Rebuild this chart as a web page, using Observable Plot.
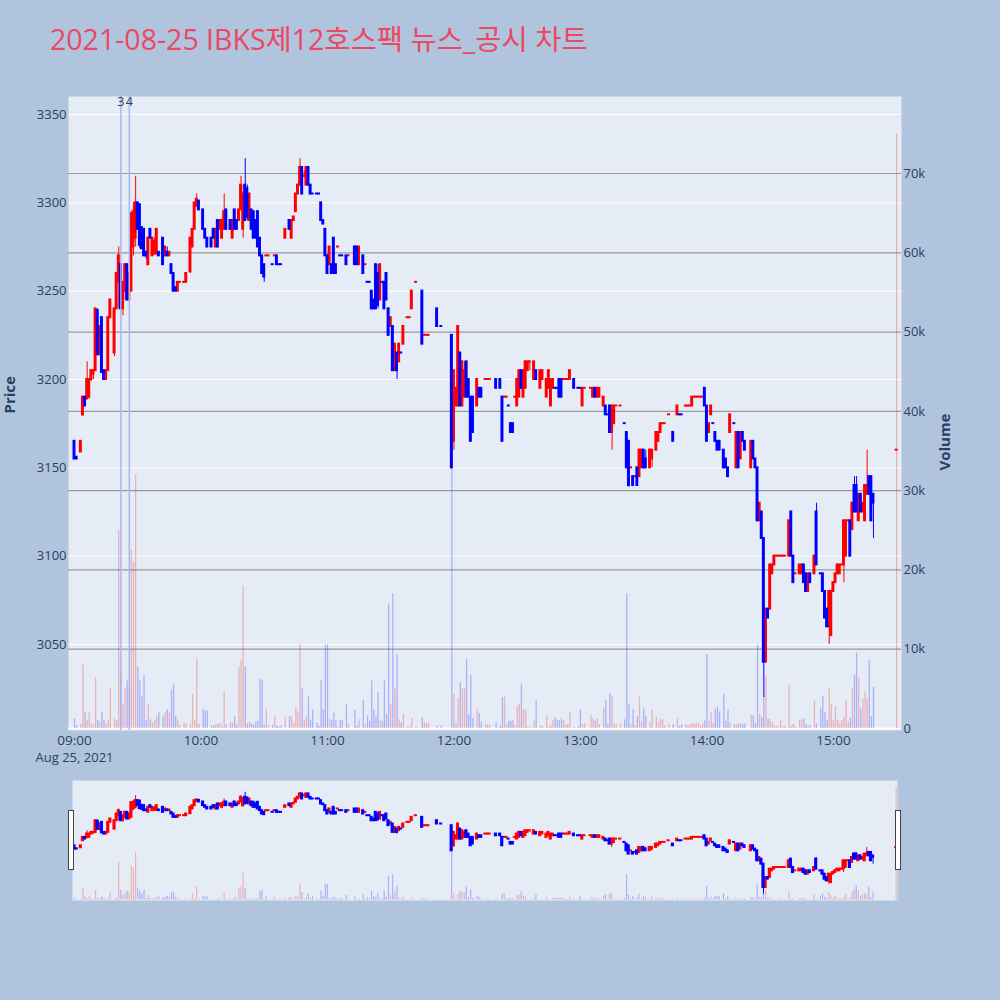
<!DOCTYPE html>
<html><head><meta charset="utf-8">
<script src="https://cdn.jsdelivr.net/npm/d3@7"></script>
<script src="https://cdn.jsdelivr.net/npm/@observablehq/plot@0.6"></script>
<style>
html,body{margin:0;padding:0;background:#B0C4DE;}
#wrap{position:relative;width:1000px;height:1000px;background:#B0C4DE;overflow:hidden;font-family:"Open Sans","Noto Sans CJK KR",sans-serif;}
#title{position:absolute;left:50px;top:22px;font-size:28.5px;line-height:34px;color:#EC4862;white-space:nowrap;font-family:"Open Sans","Noto Sans CJK KR",sans-serif;}
.handle{position:absolute;width:4px;height:58px;background:#fff;border:1px solid #444;top:810px;}
</style></head><body>
<div id="wrap"><div id="title"></div></div>
<script>
const chartTitle = "2021-08-25 IBKS제12호스팩 뉴스_공시 차트";
const dateLabel = "Aug 25, 2021";
const xTicks = [0, 60, 120, 180, 240, 300, 360];
const xTickLabels = ["09:00", "10:00", "11:00", "12:00", "13:00", "14:00", "15:00"];
const priceTicks = [3050, 3100, 3150, 3200, 3250, 3300, 3350];
const volumeTicks = [0, 10000, 20000, 30000, 40000, 50000, 60000, 70000];
const volumeTickLabels = ["0", "10k", "20k", "30k", "40k", "50k", "60k", "70k"];
const newsMinutes = [22, 26];
const newsLabels = ["3", "4"];

// [minute after 09:00, open, high, low, close, volume (thousand shares)]
const bars09 = [[0,3165,3165,3155,3155,1.2],[1,3156,3156,3155,3155,0.4],[3,3159,3165,3159,3165,0.5],[4,3180,3190,3179,3190,8],[5,3190,3190,3185,3185,2],[6,3189,3210,3189,3200,1],[7,3190,3200,3189,3200,2],[8,3200,3205,3199,3205,0.6],[9,3203,3205,3200,3205,0.5],[10,3205,3240,3205,3240,6.4],[11,3239,3240,3214,3214,1],[12,3214,3230,3214,3230,0.8],[13,3235,3235,3204,3204,2],[14,3205,3205,3200,3200,1],[15,3200,3205,3200,3205,0.6],[16,3205,3235,3205,3235,1],[17,3235,3245,3235,3245,5],[19,3215,3240,3213,3240,1.2],[20,3240,3260,3240,3260,1],[21,3255,3275,3240,3270,25],[22,3265,3265,3240,3240,6.8],[23,3240,3255,3236,3255,3],[24,3250,3265,3245,3265,5],[25,3265,3265,3245,3245,6],[26,3245,3264,3245,3260,5],[27,3250,3294,3250,3294,22.5],[28,3275,3300,3270,3295,21],[29,3280,3315,3275,3300,32],[30,3300,3300,3285,3285,7.8],[31,3299,3299,3274,3276,6],[32,3286,3286,3274,3274,4],[33,3285,3285,3270,3270,6.7],[34,3272,3272,3268,3270,1],[35,3265,3280,3265,3280,3],[36,3285,3285,3280,3280,1.1],[37,3270,3280,3270,3280,0.7],[38,3271,3280,3271,3278,1],[39,3271,3285,3271,3285,1.5],[40,3272,3272,3270,3270,2],[42,3280,3280,3265,3265,1.5],[43,3270,3275,3270,3275,2],[44,3272,3275,3270,3270,2.4],[45,3270,3272,3270,3272,2],[46,3265,3265,3260,3260,4.8],[47,3260,3260,3250,3250,5.5],[48,3252,3252,3250,3250,1.5],[49,3250,3255,3250,3255,1],[50,3255,3255,3255,3255,0.4],[52,3255,3255,3255,3255,0.7],[53,3255,3260,3255,3260,0.5],[55,3261,3280,3260,3280,0.5],[56,3275,3285,3275,3285,4.3],[57,3285,3300,3285,3300,1],[58,3298,3305,3298,3302,8.7],[59,3301,3301,3296,3296,0.5]];
const bars10 = [[61,3296,3296,3285,3285,2.4],[62,3285,3285,3280,3280,2.2],[63,3280,3280,3275,3275,2.2],[65,3280,3280,3275,3275,0.3],[66,3285,3285,3280,3280,0.3],[67,3275,3285,3275,3285,0.5],[68,3290,3290,3275,3275,0.5],[69,3285,3290,3285,3290,0.7],[70,3280,3290,3280,3290,0.3],[71,3285,3305,3285,3295,4.6],[72,3296,3296,3285,3285,0.5],[74,3290,3290,3285,3285,0.7],[75,3280,3290,3280,3290,0.7],[76,3296,3296,3285,3285,1.5],[77,3290,3290,3285,3285,0.5],[78,3290,3296,3290,3296,7.7],[79,3296,3315,3296,3310,8.5],[80,3285,3310,3280,3305,18],[81,3310,3325,3290,3290,7.8],[82,3308,3310,3290,3292,0.6],[83,3290,3305,3290,3305,0.8],[84,3296,3296,3285,3285,0.6],[85,3295,3295,3280,3280,0.4],[86,3290,3290,3280,3280,0.8],[87,3295,3295,3275,3275,0.9],[88,3280,3280,3270,3270,6.2],[89,3270,3270,3260,3260,6],[90,3265,3265,3255,3258,0.4],[91,3270,3270,3270,3270,2.4],[92,3270,3270,3270,3270,0.4],[94,3265,3265,3265,3265,0.4],[95,3270,3270,3270,3270,1.5],[96,3270,3270,3265,3265,0.3],[97,3265,3265,3265,3265,0.2],[98,3265,3265,3265,3265,0.3],[100,3280,3285,3280,3285,1.4],[102,3290,3290,3285,3285,1.5],[103,3280,3290,3280,3290,1.4],[104,3290,3292,3290,3292,0.7],[105,3295,3305,3295,3305,2.6],[106,3305,3310,3305,3310,2],[107,3310,3325,3310,3320,10.6],[108,3320,3320,3305,3305,5],[109,3315,3318,3314,3315,1],[110,3310,3320,3310,3320,1.5],[111,3320,3320,3310,3310,4],[112,3310,3310,3305,3305,1],[113,3305,3305,3305,3305,2.3],[115,3305,3305,3305,3305,0.7],[116,3305,3305,3305,3305,0.3],[117,3300,3300,3290,3290,6],[118,3290,3290,3288,3288,2.4],[119,3285,3285,3270,3270,10.5]];
const bars11 = [[120,3270,3270,3260,3260,10.6],[121,3265,3275,3265,3275,1.2],[122,3265,3265,3260,3260,1],[123,3280,3280,3260,3260,2],[124,3265,3265,3260,3260,1],[125,3275,3275,3275,3275,0.2],[126,3270,3270,3270,3270,1],[127,3270,3270,3270,3270,1],[129,3270,3270,3265,3265,3],[130,3270,3270,3270,3270,0.5],[133,3275,3275,3265,3265,2.3],[134,3275,3275,3265,3265,0.3],[135,3265,3275,3265,3275,1.1],[137,3270,3270,3260,3260,3.5],[138,3265,3265,3265,3265,0.5],[139,3255,3255,3255,3255,1.6],[140,3255,3255,3255,3255,0.9],[141,3250,3250,3240,3240,6],[142,3245,3245,3240,3240,2.3],[143,3265,3265,3240,3240,1.5],[144,3260,3265,3240,3242,4.5],[145,3245,3265,3245,3265,0.9],[146,3255,3255,3255,3255,0.9],[147,3255,3255,3240,3240,6],[148,3260,3260,3245,3245,1.8],[149,3240,3240,3225,3225,15.7],[150,3230,3235,3230,3235,3],[151,3230,3230,3205,3205,17],[152,3205,3220,3205,3220,5],[153,3215,3215,3200,3205,9.3],[154,3210,3220,3210,3220,1.1],[155,3215,3215,3215,3215,0.7],[156,3220,3230,3220,3230,1.8],[158,3235,3235,3235,3235,0.2],[159,3235,3235,3235,3235,0.2],[160,3240,3250,3240,3250,1.3],[162,3255,3255,3255,3255,0.2],[165,3250,3250,3220,3220,1.4],[166,3225,3225,3225,3225,0.8],[167,3225,3225,3225,3225,0.6],[168,3225,3225,3225,3225,0.6],[172,3240,3240,3230,3230,0.3],[174,3230,3230,3230,3230,0.3],[179,3225,3225,3150,3150,33]];
const bars12 = [[180,3165,3205,3160,3205,4.3],[181,3185,3195,3185,3195,0.7],[182,3185,3230,3185,3230,3.8],[183,3215,3215,3185,3185,5.8],[184,3185,3210,3185,3210,5],[185,3190,3210,3190,3205,5],[186,3210,3210,3190,3190,8.7],[187,3200,3200,3190,3190,1.7],[188,3190,3190,3165,3165,6.7],[189,3190,3190,3170,3170,1.3],[191,3185,3200,3185,3200,2.4],[192,3195,3195,3190,3190,1.9],[193,3195,3195,3190,3190,0.8],[195,3200,3200,3200,3200,0.5],[196,3200,3200,3200,3200,0.5],[197,3200,3200,3200,3200,0.4],[200,3200,3200,3195,3195,0.7],[202,3200,3200,3195,3195,0.3],[203,3190,3190,3165,3165,3.9],[204,3190,3190,3190,3190,4],[205,3190,3190,3190,3190,0.5],[206,3185,3185,3185,3185,0.9],[207,3175,3175,3170,3170,0.9],[208,3175,3175,3170,3170,1],[209,3190,3190,3190,3190,0.3],[210,3185,3200,3185,3200,2.7],[211,3190,3205,3190,3205,3.1],[212,3205,3205,3195,3195,5.6],[213,3190,3205,3190,3205,2.4],[214,3195,3210,3195,3210,2.3],[215,3205,3210,3205,3210,0.2],[216,3210,3210,3205,3210,0.2],[218,3200,3210,3200,3210,0.9],[219,3205,3205,3200,3200,3.5],[221,3195,3205,3195,3205,0.3],[222,3200,3205,3200,3205,0.3],[224,3190,3200,3190,3200,1.6],[225,3195,3205,3195,3205,0.2],[226,3185,3200,3185,3200,0.4],[227,3195,3200,3195,3200,1],[228,3195,3195,3195,3195,1.4],[229,3195,3195,3195,3195,1],[230,3200,3200,3190,3190,1],[231,3200,3200,3190,3190,1.2],[232,3200,3200,3200,3200,1],[233,3200,3200,3200,3200,0.4],[234,3200,3200,3200,3200,0.5],[235,3200,3205,3200,3205,2.1],[237,3200,3200,3195,3195,0.2],[239,3195,3195,3195,3195,0.2]];
const bars13 = [[240,3195,3195,3195,3195,2.4],[241,3185,3195,3185,3195,0.5],[242,3195,3195,3195,3195,0.6],[245,3195,3195,3195,3195,1.6],[246,3190,3195,3190,3195,1.2],[247,3195,3195,3190,3190,0.9],[248,3190,3195,3190,3195,1.2],[249,3190,3195,3190,3195,0.5],[251,3185,3190,3185,3190,2.6],[252,3185,3185,3180,3180,3.5],[253,3180,3180,3180,3180,0.5],[254,3185,3185,3170,3170,4.4],[255,3170,3185,3160,3185,4],[256,3175,3185,3175,3185,0.6],[257,3185,3185,3185,3185,0.5],[259,3185,3185,3185,3185,0.5],[261,3175,3175,3175,3175,1.1],[262,3170,3170,3150,3150,17],[263,3165,3165,3139,3140,3],[264,3150,3150,3150,3150,0.5],[265,3145,3145,3140,3140,2.4],[266,3145,3145,3145,3145,0.3],[267,3150,3150,3140,3140,1.5],[268,3145,3160,3145,3160,4],[269,3150,3160,3150,3160,0.8],[270,3160,3160,3150,3150,2.6],[271,3155,3160,3150,3150,1.5],[273,3150,3160,3150,3160,0.8],[274,3155,3160,3150,3160,2.3],[276,3160,3170,3160,3170,1.4],[277,3165,3170,3165,3170,0.7],[278,3170,3175,3170,3175,1.2],[279,3175,3175,3175,3175,1.1],[280,3175,3175,3175,3175,0.3],[282,3180,3180,3180,3180,0.5],[284,3170,3170,3165,3165,0.5],[286,3180,3185,3180,3185,1.2],[287,3180,3180,3180,3180,0.3],[288,3180,3180,3180,3180,0.5],[290,3185,3185,3185,3185,0.5],[291,3185,3185,3185,3185,0.3],[292,3185,3185,3185,3185,0.5],[293,3185,3190,3185,3190,0.6],[294,3190,3190,3190,3190,0.6],[295,3190,3190,3190,3190,0.6],[296,3190,3190,3190,3190,0.7],[297,3190,3190,3190,3190,0.3],[298,3190,3190,3190,3190,0.6],[299,3195,3195,3185,3185,1]];
const bars14 = [[300,3185,3185,3165,3165,9.3],[301,3170,3175,3170,3175,0.9],[302,3180,3185,3180,3185,2],[303,3175,3175,3175,3175,0.6],[304,3170,3170,3165,3165,2.4],[305,3165,3165,3160,3160,2.7],[306,3165,3165,3160,3160,2.1],[308,3160,3160,3150,3150,4.3],[309,3155,3155,3150,3150,0.9],[310,3150,3150,3145,3145,2.3],[311,3170,3180,3170,3180,0.7],[313,3175,3175,3175,3175,0.5],[314,3150,3170,3150,3170,0.5],[315,3170,3170,3150,3150,0.6],[316,3155,3170,3155,3170,0.6],[317,3170,3170,3165,3165,0.5],[318,3165,3165,3160,3160,0.6],[321,3150,3165,3150,3165,1.7],[322,3165,3165,3155,3155,1.6],[323,3155,3155,3150,3150,0.6],[324,3150,3150,3120,3120,10.5],[325,3120,3130,3120,3130,1.8],[326,3125,3125,3110,3110,1.4],[327,3110,3110,3020,3040,4],[328,3040,3070,3040,3070,6.5],[329,3070,3070,3065,3065,1.2],[330,3070,3095,3070,3095,1.1],[331,3090,3095,3090,3095,0.8],[332,3095,3100,3095,3100,0.3],[333,3100,3100,3100,3100,0.3],[334,3100,3100,3100,3100,0.2],[335,3100,3100,3100,3100,1.1],[336,3100,3100,3100,3100,0.3],[337,3100,3100,3100,3100,0.3],[339,3100,3120,3100,3120,5.5],[340,3125,3125,3100,3100,0.2],[341,3100,3100,3085,3085,0.5],[342,3090,3090,3090,3090,0.2],[344,3090,3095,3090,3095,1],[345,3090,3095,3090,3095,1.1],[346,3095,3095,3085,3085,1.2],[347,3090,3090,3080,3080,0.5],[348,3080,3090,3080,3090,0.3],[349,3090,3090,3085,3085,0.3],[351,3090,3100,3090,3100,3.5],[352,3125,3130,3095,3095,0.6],[354,3090,3090,3090,3090,2.6],[355,3090,3090,3080,3080,4.1],[356,3080,3080,3065,3065,2],[357,3070,3070,3060,3060,1],[358,3060,3080,3050,3080,5],[359,3055,3080,3055,3080,3]];
const bars15 = [[360,3080,3085,3080,3085,1],[361,3085,3090,3085,3090,2.7],[362,3090,3095,3090,3095,1],[363,3090,3095,3090,3095,0.6],[364,3095,3095,3095,3095,1],[365,3095,3120,3085,3120,1.4],[366,3100,3120,3100,3120,3.5],[367,3120,3120,3120,3120,0.8],[368,3120,3120,3100,3100,1.3],[369,3115,3130,3115,3130,5],[370,3140,3145,3125,3125,6.7],[371,3140,3145,3125,3125,9.5],[372,3120,3135,3120,3135,6.4],[373,3135,3135,3125,3125,2.5],[374,3125,3130,3125,3130,3.7],[375,3120,3140,3120,3140,4.6],[376,3135,3160,3135,3140,3.7],[377,3145,3145,3135,3135,8.6],[378,3145,3145,3120,3120,1.5],[379,3135,3135,3110,3130,5.2],[390,3160,3160,3160,3160,75]];

// ---- build table (direction like Plotly: flat candles follow previous close) ----
let prevC = null, prevUp = true;
const bars = [...bars09, ...bars10, ...bars11, ...bars12, ...bars13, ...bars14, ...bars15].map(([t, o, h, l, c, vk]) => {
  let up;
  if (c > o) up = true;
  else if (c < o) up = false;
  else if (prevC !== null && c !== prevC) up = c > prevC;
  else up = prevUp;
  prevC = c; prevUp = up;
  return {t, o, h, l, c, v: vk * 1000, up};
});
const upBars = bars.filter(d => d.up);
const downBars = bars.filter(d => !d.up);

const UP = "#ff0000", DOWN = "#0000ff";
const FONT = "'Open Sans', 'Noto Sans CJK KR', sans-serif";
const wrap = document.getElementById("wrap");
document.getElementById("title").textContent = chartTitle;

function layer(opts) {
  const svg = Plot.plot(Object.assign({
    width: 1000,
    style: {position: "absolute", left: "0px", top: "0px", background: "transparent", overflow: "visible",
      color: "#2a3f5f", fontFamily: FONT, fontSize: "13px"}
  }, opts));
  wrap.appendChild(svg);
  return svg;
}

const mainMargins = {height: 780, marginTop: 96, marginBottom: 50, marginLeft: 68, marginRight: 99};
const xMain = {domain: [-2.85, 392.3], axis: null};
const yPrice = {domain: [3001.3, 3360.2], axis: null};
const yVol = {domain: [-252, 79710], axis: null};

function candleMarks(bodyHalf, inset) {
  const marks = [];
  for (const [data, col] of [[upBars, UP], [downBars, DOWN]]) {
    marks.push(Plot.ruleX(data, {x: "t", y1: "l", y2: "h", stroke: col, strokeWidth: 1}));
    marks.push(Plot.rect(data, {x1: d => d.t - bodyHalf, x2: d => d.t + bodyHalf, y1: "o", y2: "c", fill: col, insetTop: -inset, insetBottom: -inset}));
  }
  return marks;
}
function volumeMarks(w) {
  return [
    Plot.ruleX(upBars, {x: "t", y1: d => 0, y2: "v", stroke: UP, strokeOpacity: 0.25, strokeWidth: w}),
    Plot.ruleX(downBars, {x: "t", y1: d => 0, y2: "v", stroke: DOWN, strokeOpacity: 0.25, strokeWidth: w})
  ];
}

// Layer 1: price background, grid, left axis, x axis
layer(Object.assign({}, mainMargins, {
  x: xMain, y: yPrice,
  marks: [
    Plot.frame({fill: "#E5ECF6", stroke: null}),
    Plot.gridY(priceTicks, {stroke: "#ffffff", strokeOpacity: 1, strokeWidth: 1}),
    Plot.axisY(priceTicks, {anchor: "left", tickSize: 0, tickPadding: 2, fontSize: 13, fill: "#2a3f5f", label: null,
      tickFormat: d => String(d)}),
    Plot.axisX(xTicks, {anchor: "bottom", tickSize: 0, tickPadding: 5, fontSize: 13.5, fill: "#2a3f5f", label: null,
      tickFormat: d => xTickLabels[xTicks.indexOf(d)]}),
    Plot.text([dateLabel], {x: d => 0, text: d => d, frameAnchor: "bottom", dy: 31, fontSize: 13, fill: "#2a3f5f"}),
    Plot.text(["Price"], {text: d => d, frameAnchor: "left", dx: -58, rotate: -90, fontSize: 15, fontWeight: "bold", fill: "#2a3f5f"})
  ]
}));

// Layer 2: volume grid, bars, right axis
layer(Object.assign({}, mainMargins, {
  x: xMain, y: yVol,
  marks: [
    Plot.gridY(volumeTicks.slice(1), {stroke: "#9a9a9a", strokeOpacity: 1, strokeWidth: 1.2}),
    Plot.ruleY([0], {stroke: "#ffffff", strokeWidth: 2}),
    ...volumeMarks(1.3),
    Plot.axisY(volumeTicks, {anchor: "right", tickSize: 0, tickPadding: 2, fontSize: 13, fill: "#2a3f5f", label: null,
      tickFormat: d => volumeTickLabels[volumeTicks.indexOf(d)]}),
    Plot.text(["Volume"], {text: d => d, frameAnchor: "right", dx: 44, rotate: -90, fontSize: 15, fontWeight: "bold", fill: "#2a3f5f"})
  ]
}));

// Layer 3: candles and news markers
layer(Object.assign({}, mainMargins, {
  x: xMain, y: yPrice,
  marks: [
    ...candleMarks(0.7, 1),
    Plot.ruleX(newsMinutes, {x: d => d, stroke: "#a9b6ef", strokeWidth: 1.5}),
    Plot.text(newsLabels, {x: (d, i) => newsMinutes[i], text: d => d, frameAnchor: "top", dy: 1, fontSize: 12.5, fill: "#2a3f5f"})
  ]
}));

// Range slider
const sliderMargins = {height: 1000, marginTop: 780, marginBottom: 100, marginLeft: 72, marginRight: 103};
const xSlider = {domain: [-0.95, 390.6], axis: null};
layer(Object.assign({}, sliderMargins, {
  x: xSlider, y: yVol,
  marks: [
    Plot.frame({fill: "#E5ECF6", stroke: null}),
    ...volumeMarks(1.2)
  ]
}));
layer(Object.assign({}, sliderMargins, {
  x: xSlider, y: {domain: [3001.3, 3360.2], axis: null},
  marks: candleMarks(0.75, 1)
}));

for (const left of [68, 895]) {
  const h = document.createElement("div");
  h.className = "handle";
  h.style.left = left + "px";
  wrap.appendChild(h);
}
</script>
</body></html>
